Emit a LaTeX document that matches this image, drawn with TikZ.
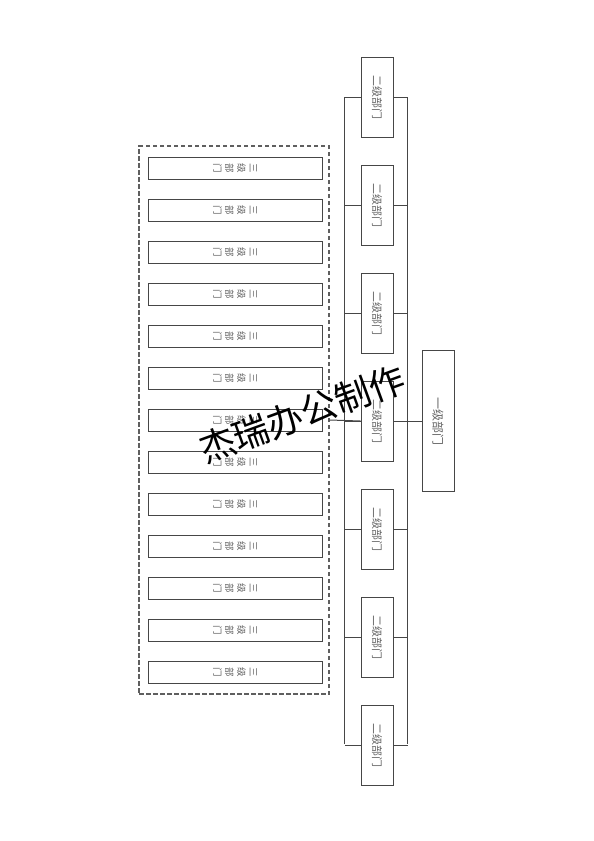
\documentclass[tikz,border=0pt]{standalone}
\usepackage{fontspec}
\newfontfamily\cjk{Noto Sans CJK SC}
\usetikzlibrary{positioning}
\definecolor{frame}{RGB}{70,70,70}
\definecolor{label}{RGB}{100,100,100}
\definecolor{dashgray}{RGB}{95,95,95}
\tikzset{
  topdept/.style={draw=frame,line width=1pt,fill=white,rotate=-90,inner sep=0pt,
    minimum width=141pt,minimum height=32pt,text=label,font=\cjk\fontsize{12}{12}\selectfont},
  secdept/.style={draw=frame,line width=1pt,fill=white,rotate=-90,inner sep=0pt,
    minimum width=80pt,minimum height=32pt,text=label,font=\cjk\fontsize{11}{11}\selectfont},
  subdept/.style={draw=frame,line width=1pt,fill=white,rotate=-90,inner sep=0pt,
    minimum width=22pt,minimum height=174pt,align=center,text=label,
    font=\cjk\fontsize{9.5}{12}\selectfont},
  group/.style={draw=dashgray,line width=1.1pt,dash pattern=on 4.5pt off 2.5pt,
    minimum width=190pt,minimum height=548pt,inner sep=0pt},
  link/.style={draw=frame,line width=1pt},
  watermark/.style={rotate=20,inner sep=0pt,text=black,font=\cjk\fontsize{36}{36}\selectfont},
}

\begin{document}
\begin{tikzpicture}[x=1pt,y=-1pt]
  \useasboundingbox[fill=white] (0,0) rectangle (594,841);
  % 一级
  \node[topdept] (top) at (438,421) {一级部门};
  % 二级
  \foreach \i in {1,...,7}{
    \node[secdept] (s\i) at (377,{97+108*(\i-1)}) {二级部门};
  }
  \coordinate (ltop) at (344.5,97);
  \coordinate (lbot) at (344.5,744);
  \coordinate (rtop) at (407.7,97);
  \coordinate (rbot) at (407.7,744);
  \draw[link] (ltop) -- (lbot);
  \draw[link] (rtop) -- (rbot);
  \foreach \i in {1,...,7}{
    \draw[link] (s\i.south) -- (s\i.south -| ltop);
    \draw[link] (s\i.north) -- (s\i.north -| rtop);
  }
  \draw[link] (s4.north) -- (top.south);
  % 三级
  \node[group] (grp) at (234,420) {};
  \foreach \i in {1,...,13}
    \node[subdept] (t\i) at (235,{168+42*(\i-1)}) {三\\级\\部\\门};
  \draw[link] (grp.east) -- (s4.south);
  % 水印
  \node[watermark] (wm) at (302,414) {杰瑞办公制作};
\end{tikzpicture}
\end{document}
